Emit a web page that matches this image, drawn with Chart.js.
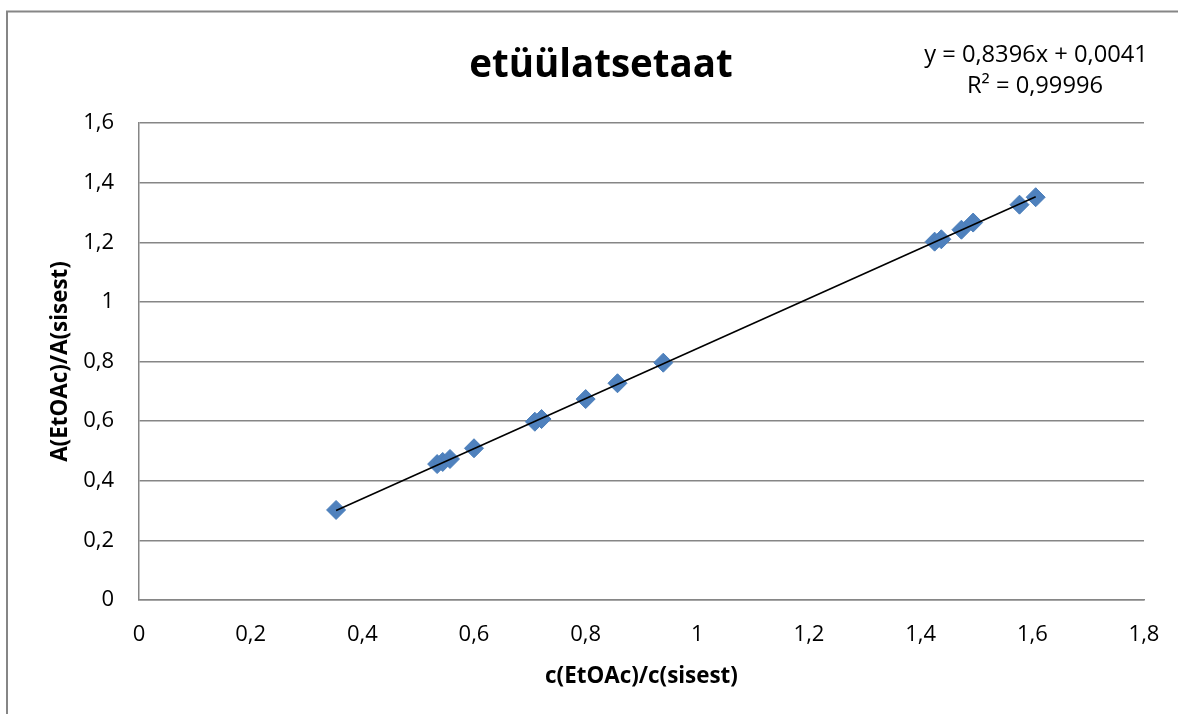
<!DOCTYPE html>
<html>
<head>
<meta charset="utf-8">
<script src="https://cdn.jsdelivr.net/npm/chart.js@4.4.1/dist/chart.umd.min.js"></script>
<style>
  html, body { margin: 0; padding: 0; background: #ffffff; overflow: hidden; }
  #wrap { width: 1178px; height: 714px; position: relative; }
</style>
</head>
<body>
<div id="wrap"><canvas id="c" width="1178" height="714"></canvas></div>
<script>
// Calibration series: concentration ratio vs. peak-area ratio (ethyl acetate / internal standard)
const chartTitle = 'etüülatsetaat';
const xAxisTitle = 'c(EtOAc)/c(sisest)';
const yAxisTitle = 'A(EtOAc)/A(sisest)';

const concRatio = [0.353, 0.534, 0.544, 0.557, 0.600, 0.709, 0.721, 0.800, 0.857, 0.939,
                   1.425, 1.437, 1.473, 1.494, 1.577, 1.606];
const areaRatio = [0.302, 0.456, 0.463, 0.473, 0.509, 0.598, 0.607, 0.674, 0.727, 0.796,
                   1.202, 1.210, 1.242, 1.266, 1.326, 1.351];

// Linear trendline
const trendSlope = 0.8396;
const trendIntercept = 0.0041;
const trendR2 = 0.99996;

const xTickValues = [0, 0.2, 0.4, 0.6, 0.8, 1, 1.2, 1.4, 1.6, 1.8];
const xTickLabels = ['0', '0,2', '0,4', '0,6', '0,8', '1', '1,2', '1,4', '1,6', '1,8'];
const yTickValues = [0, 0.2, 0.4, 0.6, 0.8, 1, 1.2, 1.4, 1.6];
const yTickLabels = ['0', '0,2', '0,4', '0,6', '0,8', '1', '1,2', '1,4', '1,6'];

const FONT = "'Open Sans', 'Liberation Sans', sans-serif";
const GRID = '#868686';

const fmt = (v, d) => v.toFixed(d).replace('.', ',');
const eqLine1 = 'y = ' + fmt(trendSlope, 4) + 'x + ' + fmt(trendIntercept, 4);
const eqLine2 = 'R² = ' + fmt(trendR2, 5);

const points = concRatio.map((x, i) => ({ x: x, y: areaRatio[i] }));
const xMin = Math.min(...concRatio), xMax = Math.max(...concRatio);
const trendPoints = [xMin, xMax].map(x => ({ x: x, y: trendSlope * x + trendIntercept }));

function fixedTicks(values, labels) {
  return {
    afterBuildTicks(scale) { scale.ticks = values.map(v => ({ value: v })); },
    callback(value, index) { return labels[index]; }
  };
}
const xTickSet = fixedTicks(xTickValues, xTickLabels);
const yTickSet = fixedTicks(yTickValues, yTickLabels);

// Outer frame, chart title, trendline equation and axis titles
const decorations = {
  id: 'decorations',
  beforeDraw(chart) {
    const ctx = chart.ctx;
    ctx.save();
    ctx.fillStyle = '#ffffff';
    ctx.fillRect(0, 0, chart.width, chart.height);
    ctx.strokeStyle = GRID;
    ctx.lineWidth = 2;
    ctx.beginPath();
    ctx.moveTo(7, chart.height + 5);
    ctx.lineTo(7, 11.5);
    ctx.lineTo(chart.width + 5, 11.5);
    ctx.stroke();
    ctx.restore();
  },
  afterDraw(chart) {
    const ctx = chart.ctx;
    const area = chart.chartArea;
    ctx.save();
    ctx.fillStyle = '#000000';
    ctx.textAlign = 'center';
    ctx.textBaseline = 'alphabetic';

    ctx.font = 'bold 38.5px ' + FONT;
    ctx.fillText(chartTitle, 601, 77);

    ctx.font = '23.7px ' + FONT;
    ctx.fillText(eqLine1, 1036, 62);
    ctx.fillText(eqLine2, 1035, 93);

    ctx.font = 'bold 22.4px ' + FONT;
    ctx.fillText(xAxisTitle, (area.left + area.right) / 2, 683);

    ctx.translate(67, (area.top + area.bottom) / 2);
    ctx.rotate(-Math.PI / 2);
    ctx.fillText(yAxisTitle, 0, 0);
    ctx.restore();
  }
};

new Chart(document.getElementById('c'), {
  type: 'scatter',
  data: {
    datasets: [
      {
        type: 'line',
        label: 'Trend',
        data: trendPoints,
        borderColor: '#000000',
        borderWidth: 1.6,
        pointRadius: 0,
        fill: false,
        order: 0
      },
      {
        label: chartTitle,
        data: points,
        pointStyle: 'rectRot',
        pointRadius: 9.5,
        pointBackgroundColor: '#4f81bd',
        pointBorderColor: '#4a7ebb',
        pointBorderWidth: 1,
        order: 1
      }
    ]
  },
  options: {
    responsive: false,
    animation: false,
    devicePixelRatio: 1,
    layout: { padding: { top: 123, right: 34, bottom: 10, left: 20 } },
    plugins: {
      legend: { display: false },
      tooltip: { enabled: false },
      title: { display: false }
    },
    scales: {
      x: {
        type: 'linear',
        min: 0, max: 1.8,
        afterBuildTicks: xTickSet.afterBuildTicks,
        afterFit(scale) { scale.height = 104; },
        grid: { display: false, drawTicks: false },
        border: { display: true, color: GRID, width: 1.5 },
        ticks: {
          callback: xTickSet.callback,
          color: '#000000',
          font: { family: FONT, size: 22, lineHeight: 1.65 },
          padding: 17,
          maxRotation: 0,
          autoSkip: false
        }
      },
      y: {
        type: 'linear',
        min: 0, max: 1.6,
        afterBuildTicks: yTickSet.afterBuildTicks,
        afterFit(scale) { scale.width = 119; },
        grid: { display: true, color: GRID, lineWidth: 1.5, drawTicks: false },
        border: { display: true, color: GRID, width: 1.5 },
        ticks: {
          callback: yTickSet.callback,
          color: '#000000',
          font: { family: FONT, size: 22 },
          padding: 25,
          autoSkip: false
        }
      }
    }
  },
  plugins: [decorations]
});
</script>
</body>
</html>
